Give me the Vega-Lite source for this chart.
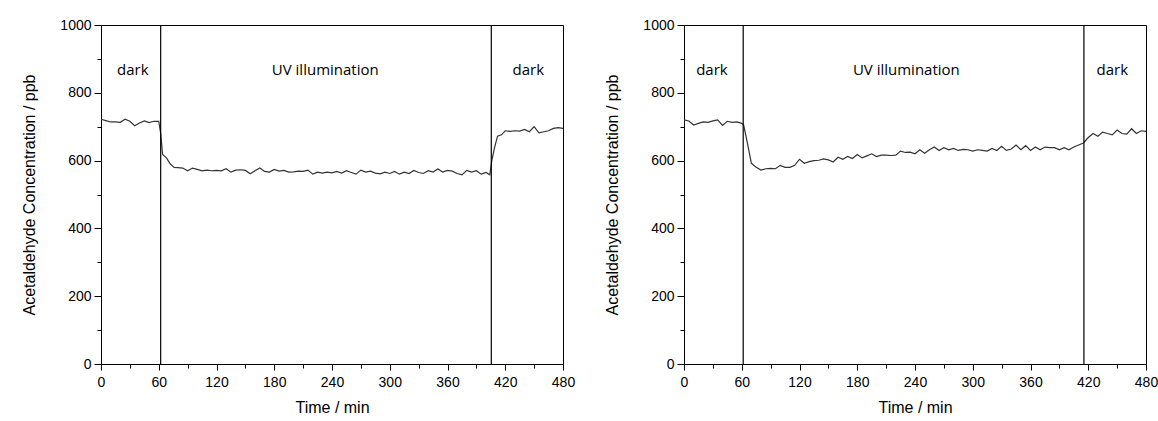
{
  "$schema": "https://vega.github.io/schema/vega-lite/v6.json",
  "background": "white",
  "padding": {"left": 21, "top": 17, "right": 0, "bottom": 2},
  "spacing": 121,
  "bounds": "flush",
  "config": {
    "view": {"stroke": "black", "strokeWidth": 1},
    "axis": {
      "domainColor": "black",
      "tickColor": "black",
      "labelColor": "black",
      "titleColor": "black",
      "labelFont": "Liberation Sans",
      "titleFont": "Liberation Sans",
      "labelFontSize": 14,
      "titleFontSize": 16,
      "titleFontWeight": "normal",
      "grid": false,
      "labelFlush": false,
      "labelOverlap": false
    }
  },
  "datasets": {
    "left": [
      {"t": 0, "c": 722}, {"t": 5, "c": 718}, {"t": 10, "c": 714}, {"t": 15, "c": 714}, {"t": 20, "c": 713}, {"t": 25, "c": 722}, {"t": 30, "c": 716}, {"t": 35, "c": 703}, {"t": 40, "c": 711}, {"t": 45, "c": 717}, {"t": 50, "c": 712}, {"t": 55, "c": 716}, {"t": 60, "c": 716},
      {"t": 62, "c": 680}, {"t": 64, "c": 618}, {"t": 68, "c": 608}, {"t": 72, "c": 590}, {"t": 76, "c": 580}, {"t": 80, "c": 579}, {"t": 85, "c": 578}, {"t": 90, "c": 570}, {"t": 95, "c": 578}, {"t": 100, "c": 574}, {"t": 105, "c": 570}, {"t": 110, "c": 572}, {"t": 115, "c": 570}, {"t": 120, "c": 571}, {"t": 125, "c": 570}, {"t": 130, "c": 576}, {"t": 135, "c": 566}, {"t": 140, "c": 572}, {"t": 145, "c": 573}, {"t": 150, "c": 571}, {"t": 155, "c": 561}, {"t": 160, "c": 570}, {"t": 165, "c": 578}, {"t": 170, "c": 568}, {"t": 175, "c": 566}, {"t": 180, "c": 574}, {"t": 185, "c": 569}, {"t": 190, "c": 571}, {"t": 195, "c": 566}, {"t": 200, "c": 567}, {"t": 205, "c": 569}, {"t": 210, "c": 568}, {"t": 215, "c": 572}, {"t": 220, "c": 560}, {"t": 225, "c": 566}, {"t": 230, "c": 563}, {"t": 235, "c": 566}, {"t": 240, "c": 564}, {"t": 245, "c": 568}, {"t": 250, "c": 563}, {"t": 255, "c": 570}, {"t": 260, "c": 565}, {"t": 265, "c": 560}, {"t": 270, "c": 572}, {"t": 275, "c": 566}, {"t": 280, "c": 569}, {"t": 285, "c": 563}, {"t": 290, "c": 561}, {"t": 295, "c": 566}, {"t": 300, "c": 562}, {"t": 305, "c": 568}, {"t": 310, "c": 560}, {"t": 315, "c": 566}, {"t": 320, "c": 562}, {"t": 325, "c": 571}, {"t": 330, "c": 565}, {"t": 335, "c": 562}, {"t": 340, "c": 570}, {"t": 345, "c": 566}, {"t": 350, "c": 575}, {"t": 355, "c": 566}, {"t": 360, "c": 571}, {"t": 365, "c": 569}, {"t": 370, "c": 562}, {"t": 375, "c": 558}, {"t": 380, "c": 571}, {"t": 385, "c": 566}, {"t": 390, "c": 570}, {"t": 395, "c": 560}, {"t": 400, "c": 565}, {"t": 404, "c": 558},
      {"t": 406, "c": 600}, {"t": 409, "c": 640}, {"t": 412, "c": 672}, {"t": 416, "c": 676}, {"t": 420, "c": 688}, {"t": 425, "c": 686}, {"t": 430, "c": 688}, {"t": 435, "c": 687}, {"t": 440, "c": 692}, {"t": 445, "c": 685}, {"t": 450, "c": 700}, {"t": 455, "c": 682}, {"t": 460, "c": 685}, {"t": 465, "c": 688}, {"t": 470, "c": 695}, {"t": 475, "c": 697}, {"t": 480, "c": 695}
    ],
    "right": [
      {"t": 0, "c": 720}, {"t": 5, "c": 717}, {"t": 10, "c": 705}, {"t": 15, "c": 710}, {"t": 20, "c": 714}, {"t": 25, "c": 713}, {"t": 30, "c": 717}, {"t": 35, "c": 720}, {"t": 40, "c": 704}, {"t": 45, "c": 716}, {"t": 50, "c": 713}, {"t": 55, "c": 714}, {"t": 60, "c": 710},
      {"t": 62, "c": 705}, {"t": 66, "c": 650}, {"t": 70, "c": 592}, {"t": 75, "c": 580}, {"t": 80, "c": 572}, {"t": 85, "c": 576}, {"t": 90, "c": 577}, {"t": 95, "c": 576}, {"t": 100, "c": 586}, {"t": 105, "c": 580}, {"t": 110, "c": 580}, {"t": 115, "c": 586}, {"t": 120, "c": 604}, {"t": 125, "c": 592}, {"t": 130, "c": 597}, {"t": 135, "c": 600}, {"t": 140, "c": 601}, {"t": 145, "c": 605}, {"t": 150, "c": 602}, {"t": 155, "c": 596}, {"t": 160, "c": 610}, {"t": 165, "c": 604}, {"t": 170, "c": 612}, {"t": 175, "c": 606}, {"t": 180, "c": 618}, {"t": 185, "c": 608}, {"t": 190, "c": 614}, {"t": 195, "c": 620}, {"t": 200, "c": 612}, {"t": 205, "c": 616}, {"t": 210, "c": 616}, {"t": 215, "c": 615}, {"t": 220, "c": 616}, {"t": 225, "c": 628}, {"t": 230, "c": 624}, {"t": 235, "c": 625}, {"t": 240, "c": 620}, {"t": 245, "c": 632}, {"t": 250, "c": 622}, {"t": 255, "c": 632}, {"t": 260, "c": 640}, {"t": 265, "c": 630}, {"t": 270, "c": 638}, {"t": 275, "c": 632}, {"t": 280, "c": 636}, {"t": 285, "c": 630}, {"t": 290, "c": 633}, {"t": 295, "c": 632}, {"t": 300, "c": 628}, {"t": 305, "c": 632}, {"t": 310, "c": 630}, {"t": 315, "c": 628}, {"t": 320, "c": 636}, {"t": 325, "c": 630}, {"t": 330, "c": 642}, {"t": 335, "c": 630}, {"t": 340, "c": 634}, {"t": 345, "c": 646}, {"t": 350, "c": 632}, {"t": 355, "c": 644}, {"t": 360, "c": 630}, {"t": 365, "c": 640}, {"t": 370, "c": 632}, {"t": 375, "c": 640}, {"t": 380, "c": 638}, {"t": 385, "c": 638}, {"t": 390, "c": 632}, {"t": 395, "c": 638}, {"t": 400, "c": 632}, {"t": 405, "c": 640}, {"t": 410, "c": 646}, {"t": 415, "c": 652},
      {"t": 420, "c": 668}, {"t": 425, "c": 680}, {"t": 430, "c": 672}, {"t": 435, "c": 684}, {"t": 440, "c": 680}, {"t": 445, "c": 676}, {"t": 450, "c": 690}, {"t": 455, "c": 680}, {"t": 460, "c": 678}, {"t": 465, "c": 694}, {"t": 470, "c": 680}, {"t": 475, "c": 688}, {"t": 480, "c": 686}
    ],
    "leftRules": [{"t": 62}, {"t": 405.5}],
    "rightRules": [{"t": 61.5}, {"t": 415.5}],
    "leftLabels": [{"t": 33, "c": 868, "label": "dark"}, {"t": 233, "c": 868, "label": "UV illumination"}, {"t": 444, "c": 868, "label": "dark"}],
    "rightLabels": [{"t": 29, "c": 868, "label": "dark"}, {"t": 231, "c": 868, "label": "UV illumination"}, {"t": 445, "c": 868, "label": "dark"}]
  },
  "hconcat": [
    {
      "width": 462,
      "height": 339,
      "encoding": {
        "x": {"field": "t", "type": "quantitative", "scale": {"domain": [0, 480], "nice": false},
          "axis": {"title": "Time / min", "values": [0,30,60,90,120,150,180,210,240,270,300,330,360,390,420,450,480],
            "labelExpr": "datum.value % 60 === 0 ? datum.label : ''",
            "tickSize": {"condition": {"test": "datum.value % 60 === 0", "value": 6}, "value": 4},
            "labelPadding": 5, "titlePadding": 10}},
        "y": {"field": "c", "type": "quantitative", "scale": {"domain": [0, 1000], "nice": false},
          "axis": {"title": "Acetaldehyde Concentration / ppb", "values": [0,100,200,300,400,500,600,700,800,900,1000],
            "labelExpr": "datum.value % 200 === 0 ? format(datum.value, 'd') : ''",
            "tickSize": {"condition": {"test": "datum.value % 200 === 0", "value": 7}, "value": 4},
            "labelPadding": 3, "titlePadding": 22}}
      },
      "layer": [
        {"data": {"name": "left"}, "mark": {"type": "line", "color": "#333333", "strokeWidth": 1.2}},
        {"data": {"name": "leftRules"}, "mark": {"type": "rule", "color": "black", "strokeWidth": 1.2}, "encoding": {"y": null}},
        {"data": {"name": "leftLabels"}, "mark": {"type": "text", "font": "Open Sans", "fontSize": 15, "color": "black"}, "encoding": {"text": {"field": "label"}}}
      ]
    },
    {
      "width": 462,
      "height": 339,
      "encoding": {
        "x": {"field": "t", "type": "quantitative", "scale": {"domain": [0, 480], "nice": false},
          "axis": {"title": "Time / min", "values": [0,30,60,90,120,150,180,210,240,270,300,330,360,390,420,450,480],
            "labelExpr": "datum.value % 60 === 0 ? datum.label : ''",
            "tickSize": {"condition": {"test": "datum.value % 60 === 0", "value": 6}, "value": 4},
            "labelPadding": 5, "titlePadding": 10}},
        "y": {"field": "c", "type": "quantitative", "scale": {"domain": [0, 1000], "nice": false},
          "axis": {"title": "Acetaldehyde Concentration / ppb", "values": [0,100,200,300,400,500,600,700,800,900,1000],
            "labelExpr": "datum.value % 200 === 0 ? format(datum.value, 'd') : ''",
            "tickSize": {"condition": {"test": "datum.value % 200 === 0", "value": 7}, "value": 4},
            "labelPadding": 3, "titlePadding": 22}}
      },
      "layer": [
        {"data": {"name": "right"}, "mark": {"type": "line", "color": "#333333", "strokeWidth": 1.2}},
        {"data": {"name": "rightRules"}, "mark": {"type": "rule", "color": "black", "strokeWidth": 1.2}, "encoding": {"y": null}},
        {"data": {"name": "rightLabels"}, "mark": {"type": "text", "font": "Open Sans", "fontSize": 15, "color": "black"}, "encoding": {"text": {"field": "label"}}}
      ]
    }
  ]
}
